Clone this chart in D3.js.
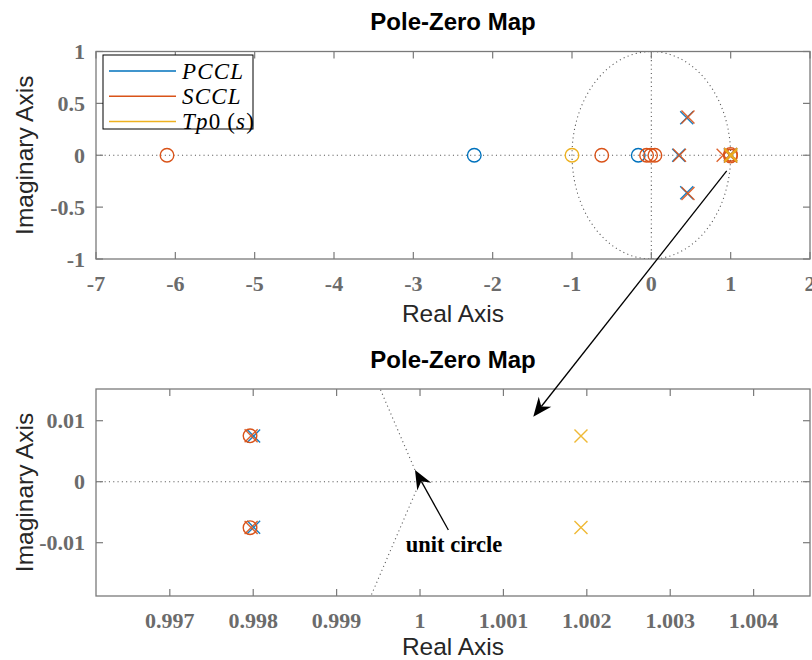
<!DOCTYPE html>
<html><head><meta charset="utf-8">
<script src="https://cdn.jsdelivr.net/npm/d3@7"></script>
<style>body{margin:0;background:#fff}svg{display:block}</style>
</head><body><svg id="c" width="812" height="660"></svg>
<script>
// ---------- data ----------
const seriesNames = ["PCCL", "SCCL", "Tp0"];
const seriesColors = ["#0072BD", "#D95319", "#EDB120"];
const pcclZerosRe = [-2.232, -0.165];
const pcclZerosIm = [0, 0];
const pcclPolesRe = [0.345, 0.446, 0.446, 0.998005, 0.998005];
const pcclPolesIm = [0, 0.362, -0.362, 0.00748, -0.00748];
const scclZerosRe = [-6.105, -0.625, -0.06, -0.01, 0.045, 0.997962, 0.997962];
const scclZerosIm = [0, 0, 0, 0, 0, 0.00753, -0.00753];
const scclPolesRe = [0.355, 0.462, 0.462, 0.905, 0.997975, 0.997975];
const scclPolesIm = [0, 0.368, -0.368, 0, 0.00752, -0.00752];
const tp0ZerosRe = [-1.0];
const tp0ZerosIm = [0];
const tp0PolesRe = [1.00193, 1.00193];
const tp0PolesIm = [0.0075, -0.0075];

const topXTicks = [-7, -6, -5, -4, -3, -2, -1, 0, 1, 2];
const topYTicks = [-1, -0.5, 0, 0.5, 1];
const botXTicks = [0.997, 0.998, 0.999, 1, 1.001, 1.002, 1.003, 1.004];
const botYTicks = [-0.01, 0, 0.01];
const topXDomain = [-7, 2];
const topYDomain = [-1, 1];
const botXDomain = [0.996115, 1.004676];
const botYDomain = [-0.01874, 0.0152];

// annotations (data coordinates)
const zoomArrowFrom = [0.95, -0.151];     // top plot
const zoomArrowTo = [1.001358, 0.01066];  // bottom plot
const ucArrowFrom = [1.00034, -0.00792];  // bottom plot
const ucArrowTo = [0.99994, 0.00192];
const ucTextPos = [0.99983, -0.0104];
const ucText = "unit circle";

// ---------- layout ----------
const svg = d3.select("#c");
const L = 96, R = 810;
const panels = [
  {top: 51.5, bottom: 259, xd: topXDomain, yd: topYDomain, xt: topXTicks, yt: topYTicks, titleY: 30, xlabY: 322},
  {top: 389, bottom: 596, xd: botXDomain, yd: botYDomain, xt: botXTicks, yt: botYTicks, titleY: 368, xlabY: 655}
];
panels.forEach(p => {
  p.x = d3.scaleLinear(p.xd, [L, R]);
  p.y = d3.scaleLinear(p.yd, [p.bottom, p.top]);
});

const series = [
  {zr: pcclZerosRe, zi: pcclZerosIm, pr: pcclPolesRe, pi: pcclPolesIm},
  {zr: scclZerosRe, zi: scclZerosIm, pr: scclPolesRe, pi: scclPolesIm},
  {zr: tp0ZerosRe, zi: tp0ZerosIm, pr: tp0PolesRe, pi: tp0PolesIm}
];

const axisColor = "#7a7a7a";
const fmt = v => (v < 0 ? "-" : "") + String(Math.abs(v));

// unit circle polyline (MATLAB-like sampling)
const ucN = 100;
const unitCircle = d3.range(ucN + 1).map(i => [Math.cos(2 * Math.PI * i / ucN), Math.sin(2 * Math.PI * i / ucN)]);

panels.forEach((p, pi) => {
  const g = svg.append("g");
  const clipId = "clip" + pi;
  svg.append("clipPath").attr("id", clipId).append("rect")
    .attr("x", L).attr("y", p.top).attr("width", R - L).attr("height", p.bottom - p.top);
  const inner = g.append("g").attr("clip-path", `url(#${clipId})`);

  const dot = sel => sel.attr("fill", "none").attr("stroke", "#5a5a5a").attr("stroke-width", 1.1).attr("stroke-dasharray", "1.1 3.2");
  inner.append("line").attr("x1", L).attr("x2", R).attr("y1", p.y(0)).attr("y2", p.y(0)).call(dot);
  inner.append("line").attr("x1", p.x(0)).attr("x2", p.x(0)).attr("y1", p.top).attr("y2", p.bottom).call(dot);
  inner.append("path").attr("d", d3.line().x(d => p.x(d[0])).y(d => p.y(d[1]))(unitCircle)).call(dot);

  series.forEach((s, si) => {
    const col = seriesColors[si];
    s.pr.forEach((re, i) => {
      const cx = p.x(re), cy = p.y(s.pi[i]), h = 6.5;
      inner.append("path").attr("d", `M${cx - h},${cy - h}L${cx + h},${cy + h}M${cx - h},${cy + h}L${cx + h},${cy - h}`)
        .attr("stroke", col).attr("stroke-width", 1.4).attr("fill", "none").attr("opacity", 0.9);
    });
    s.zr.forEach((re, i) => {
      inner.append("circle").attr("cx", p.x(re)).attr("cy", p.y(s.zi[i])).attr("r", 6.8)
        .attr("stroke", col).attr("stroke-width", 1.4).attr("fill", "none");
    });
  });

  g.append("rect").attr("x", L).attr("y", p.top).attr("width", R - L).attr("height", p.bottom - p.top)
    .attr("fill", "none").attr("stroke", axisColor).attr("stroke-width", 1.3);
  const tl = 7;
  p.xt.forEach(t => {
    const x = p.x(t);
    g.append("line").attr("x1", x).attr("x2", x).attr("y1", p.bottom).attr("y2", p.bottom - tl).attr("stroke", axisColor).attr("stroke-width", 1.2);
    g.append("line").attr("x1", x).attr("x2", x).attr("y1", p.top).attr("y2", p.top + tl).attr("stroke", axisColor).attr("stroke-width", 1.2);
    g.append("text").attr("x", x).attr("y", p.bottom + 32).attr("text-anchor", "middle")
      .attr("font-family", "Liberation Serif").attr("font-weight", "bold").attr("font-size", 22).attr("fill", "#6b6b6b").text(fmt(t));
  });
  p.yt.forEach(t => {
    const y = p.y(t);
    g.append("line").attr("x1", L).attr("x2", L + tl).attr("y1", y).attr("y2", y).attr("stroke", axisColor).attr("stroke-width", 1.2);
    g.append("line").attr("x1", R).attr("x2", R - tl).attr("y1", y).attr("y2", y).attr("stroke", axisColor).attr("stroke-width", 1.2);
    g.append("text").attr("x", L - 11).attr("y", y + 7.5).attr("text-anchor", "end")
      .attr("font-family", "Liberation Serif").attr("font-weight", "bold").attr("font-size", 22).attr("fill", "#6b6b6b").text(fmt(t));
  });

  g.append("text").attr("x", (L + R) / 2).attr("y", p.titleY).attr("text-anchor", "middle")
    .attr("font-family", "Liberation Sans").attr("font-weight", "bold").attr("font-size", 24).attr("fill", "#000").text("Pole-Zero Map");
  g.append("text").attr("x", (L + R) / 2).attr("y", p.xlabY).attr("text-anchor", "middle")
    .attr("font-family", "Liberation Sans").attr("font-size", 24.5).attr("fill", "#262626").text("Real Axis");
  g.append("text").attr("transform", `translate(33,${(p.top + p.bottom) / 2}) rotate(-90)`).attr("text-anchor", "middle")
    .attr("font-family", "Liberation Sans").attr("font-size", 24.5).attr("fill", "#262626").text("Imaginary Axis");
});

// legend
const P0 = panels[0];
const lg = svg.append("g");
lg.append("rect").attr("x", 103).attr("y", 55).attr("width", 150).attr("height", 74)
  .attr("fill", "#fff").attr("stroke", "#000").attr("stroke-width", 1);
const legendLabels = [
  [["PCCL", "italic"]],
  [["SCCL", "italic"]],
  [["Tp", "italic"], ["0", "normal"], ["\u2009(", "normal"], ["s", "italic"], [")", "normal"]]
];
legendLabels.forEach((parts, i) => {
  const y = 71 + i * 25.3;
  lg.append("line").attr("x1", 109).attr("x2", 176).attr("y1", y).attr("y2", y)
    .attr("stroke", seriesColors[i]).attr("stroke-width", 1.5);
  const t = lg.append("text").attr("x", 182).attr("y", y + 7.5).attr("font-family", "Liberation Serif")
    .attr("font-size", 23).attr("fill", "#000").attr("letter-spacing", 1.2);
  parts.forEach(([s, st]) => t.append("tspan").attr("font-style", st).text(s));
});

// arrows
function arrow(x1, y1, x2, y2) {
  const dx = x2 - x1, dy = y2 - y1, len = Math.hypot(dx, dy);
  const ux = dx / len, uy = dy / len, nx = -uy, ny = ux;
  const hl = 19, hw = 8, notch = 6;
  const bx = x2 - ux * hl, by = y2 - uy * hl;
  const nX = x2 - ux * (hl - notch), nY = y2 - uy * (hl - notch);
  svg.append("line").attr("x1", x1).attr("y1", y1).attr("x2", nX).attr("y2", nY)
    .attr("stroke", "#000").attr("stroke-width", 1.3);
  svg.append("path").attr("d", `M${x2},${y2}L${bx + nx * hw},${by + ny * hw}L${nX},${nY}L${bx - nx * hw},${by - ny * hw}Z`)
    .attr("fill", "#000");
}
const P1 = panels[1];
arrow(P0.x(zoomArrowFrom[0]), P0.y(zoomArrowFrom[1]), P1.x(zoomArrowTo[0]), P1.y(zoomArrowTo[1]));
arrow(P1.x(ucArrowFrom[0]), P1.y(ucArrowFrom[1]), P1.x(ucArrowTo[0]), P1.y(ucArrowTo[1]));
svg.append("text").attr("x", P1.x(ucTextPos[0])).attr("y", P1.y(ucTextPos[1]) + 7)
  .attr("font-family", "Liberation Serif").attr("font-weight", "bold").attr("font-size", 22.5).attr("fill", "#000").text(ucText);
</script></body></html>
